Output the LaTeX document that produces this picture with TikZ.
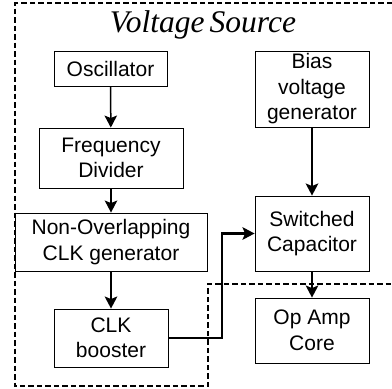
\documentclass[tikz,border=0pt]{standalone}
\usepackage{fontspec}
\setmainfont{Liberation Sans}
\newfontfamily\titlefont{Liberation Serif}
\usetikzlibrary{arrows.meta}
\begin{document}
\begin{tikzpicture}[x=1pt,y=-1pt,
  blk/.style={draw=black, line width=0.9pt, rectangle, align=center, inner sep=0pt,
    font=\fontsize{21}{25.5}\selectfont},
  arr/.style={-{Stealth[length=12pt,width=12.5pt,inset=2.5pt]}},
  frame/.style={line width=1.1pt, dash pattern=on 5.5pt off 3pt}]
\useasboundingbox (0,0) rectangle (392,389);
\fill[white] (0,0) rectangle (392,389);
\node[blk, minimum width=113pt, minimum height=35pt] (osc) at (110.5,68.5) {Oscillator};
\node[blk, minimum width=144pt, minimum height=60pt] (fd) at (111,158) {Frequency\\Divider};
\node[blk, minimum width=192pt, minimum height=58pt] (nc) at (111,242) {Non-Overlapping\\CLK generator};
\node[blk, minimum width=114pt, minimum height=58pt] (cb) at (111,338) {CLK\\booster};
\node[blk, minimum width=114pt, minimum height=76pt] (bias) at (312,89) {Bias\\voltage\\generator};
\node[blk, minimum width=114pt, minimum height=75pt] (sc) at (312,233.5) {Switched\\Capacitor};
\node[blk, minimum width=114pt, minimum height=65pt] (oa) at (312,330.5) {Op Amp\\Core};
\node[font=\titlefont\itshape\fontsize{31.5}{35}\selectfont, anchor=base, inner sep=0pt] (title) at (203,32) {Voltage\,Source};
\coordinate (f1) at (392,3);
\coordinate (f2) at (15,3);
\coordinate (f3) at (15,386);
\coordinate (f4) at (208,386);
\coordinate (f5) at (208,284);
\coordinate (f6) at (392,284);
\draw[frame] (f1) -- (f2) -- (f3) -- (f4) -- (f5) -- (f6);
\draw[arr, line width=1.5pt] (osc) -- (fd);
\draw[arr, line width=1.5pt] (fd) -- (nc);
\draw[arr, line width=2.2pt] (nc) -- (cb);
\draw[arr, line width=2.8pt] (bias) -- (sc);
\draw[arr, line width=2.2pt] (sc) -- (oa);
\coordinate (bend) at (222,338);
\draw[arr, line width=2.8pt] (cb.east) -- (bend) |- (sc.west);
\end{tikzpicture}
\end{document}
